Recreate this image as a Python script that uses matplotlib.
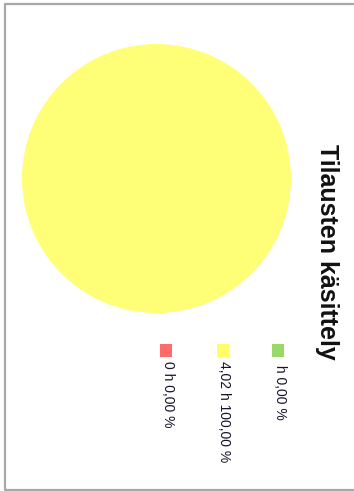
import matplotlib
matplotlib.use("Agg")
import matplotlib.pyplot as plt
from matplotlib.patches import Rectangle
from matplotlib.lines import Line2D

title = "Tilausten käsittely"
hours = [0.0, 4.02, 0.0]
labels = ["0 h 0,00 %", "4,02 h 100,00 %", " h 0,00 %"]
colors = ["#FF6B6B", "#FFFF66", "#9AD86A"]
pie_colors = ["#FF7777", "#FFFF77", "#A5DD77"]

W, H = 354, 491
fig = plt.figure(figsize=(W / 100, H / 100), dpi=100)
fig.patch.set_facecolor("white")

# outer frame (top, left, bottom; open to the right)
x0, y0, y1 = 4.5 / W, 1 - 3.5 / H, 1 - 490 / H
fig.add_artist(Line2D([1.05, x0, x0, 1.05], [y0, y0, y1, y1],
                      transform=fig.transFigure, color="#A8A8A8", linewidth=1.6))

cx, cy, r = 156.5, 178.5, 134.5
ax = fig.add_axes([(cx - r) / W, 1 - (cy + r) / H, 2 * r / W, 2 * r / H])
ax.pie(hours, colors=pie_colors, startangle=90, counterclock=False,
       wedgeprops=dict(linewidth=0))
ax.set_xlim(-1, 1)
ax.set_ylim(-1, 1)
ax.set_aspect("auto")
ax.axis("off")

# title (rotated)
fig.text(327 / W, 1 - 252 / H, title, rotation=-90, ha="center", va="center",
         fontsize=18, fontweight="bold", family="Liberation Sans", color="#111111")

# legend (rotated)
xs = [165.5, 222.5, 277.5]
for x, lab, col in zip(xs, labels, colors):
    fig.patches.append(Rectangle(((x - 6) / W, 1 - 357 / H), 12 / W, 13 / H,
                                 transform=fig.transFigure, facecolor=col,
                                 edgecolor="none"))
    fig.text((x + 2) / W, 1 - 361 / H, lab, rotation=-90, ha="center", va="top",
             fontsize=10, family="Liberation Sans", color="#14142e")

fig.savefig("out.png", dpi=100)
